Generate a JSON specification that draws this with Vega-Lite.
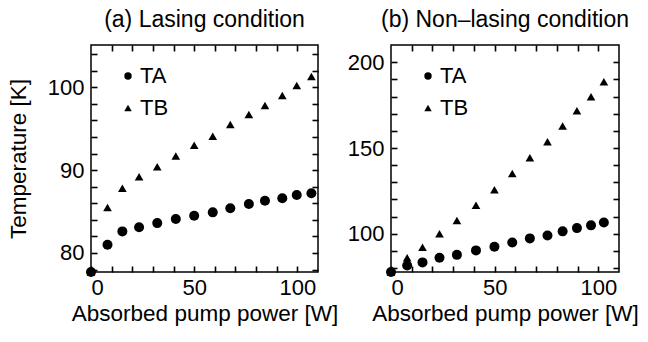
{
  "$schema": "https://vega.github.io/schema/vega-lite/v6.json",
  "background": "white",
  "padding": {"left": 6, "top": 8, "right": 3, "bottom": 5},
  "config": {
    "font": "Liberation Sans",
    "view": {"stroke": "black", "strokeWidth": 1.5},
    "axis": {
      "domain": false, "grid": false,
      "tickColor": "black", "tickWidth": 1.6, "tickSize": -6,
      "labelFontSize": 22, "labelColor": "black", "labelFont": "Liberation Sans",
      "titleFontSize": 22.5, "titleFontWeight": "normal", "titleColor": "black", "titleFont": "Liberation Sans"
    },
    "axisX": {"labelPadding": 11},
    "axisY": {"labelPadding": 13},
    "title": {"fontSize": 23, "fontWeight": "normal", "font": "Liberation Sans", "color": "black", "offset": 12},
    "legend": {"labelFontSize": 22, "labelFont": "Liberation Sans", "labelColor": "black", "symbolSize": 55, "symbolFillColor": "black", "symbolStrokeWidth": 0, "rowPadding": 10, "padding": 0, "labelOffset": 1},
    "concat": {"spacing": 7}
  },
  "data": {"values": [
    {"panel": "a", "series": "TA", "power": 0, "temp": 77.7},
    {"panel": "a", "series": "TA", "power": 8.0, "temp": 81.0},
    {"panel": "a", "series": "TA", "power": 15.2, "temp": 82.6},
    {"panel": "a", "series": "TA", "power": 23.3, "temp": 83.1},
    {"panel": "a", "series": "TA", "power": 32.1, "temp": 83.6},
    {"panel": "a", "series": "TA", "power": 41.1, "temp": 84.1},
    {"panel": "a", "series": "TA", "power": 50.0, "temp": 84.5},
    {"panel": "a", "series": "TA", "power": 59.0, "temp": 84.9},
    {"panel": "a", "series": "TA", "power": 67.5, "temp": 85.4},
    {"panel": "a", "series": "TA", "power": 76.5, "temp": 85.9},
    {"panel": "a", "series": "TA", "power": 84.3, "temp": 86.3},
    {"panel": "a", "series": "TA", "power": 92.7, "temp": 86.6},
    {"panel": "a", "series": "TA", "power": 99.7, "temp": 87.0},
    {"panel": "a", "series": "TA", "power": 106.8, "temp": 87.2},
    {"panel": "a", "series": "TB", "power": 0, "temp": 77.7},
    {"panel": "a", "series": "TB", "power": 8.0, "temp": 85.5},
    {"panel": "a", "series": "TB", "power": 15.2, "temp": 87.8},
    {"panel": "a", "series": "TB", "power": 23.3, "temp": 89.2},
    {"panel": "a", "series": "TB", "power": 32.1, "temp": 90.4},
    {"panel": "a", "series": "TB", "power": 41.1, "temp": 91.7},
    {"panel": "a", "series": "TB", "power": 50.0, "temp": 93.0},
    {"panel": "a", "series": "TB", "power": 59.0, "temp": 94.1},
    {"panel": "a", "series": "TB", "power": 67.5, "temp": 95.5},
    {"panel": "a", "series": "TB", "power": 76.5, "temp": 96.7},
    {"panel": "a", "series": "TB", "power": 84.3, "temp": 97.8},
    {"panel": "a", "series": "TB", "power": 92.7, "temp": 99.0},
    {"panel": "a", "series": "TB", "power": 99.7, "temp": 100.2},
    {"panel": "a", "series": "TB", "power": 106.8, "temp": 101.3},
    {"panel": "b", "series": "TA", "power": 0, "temp": 77.7},
    {"panel": "b", "series": "TA", "power": 7.8, "temp": 81.5},
    {"panel": "b", "series": "TA", "power": 15.2, "temp": 83.3},
    {"panel": "b", "series": "TA", "power": 23.4, "temp": 86.0},
    {"panel": "b", "series": "TA", "power": 31.8, "temp": 87.7},
    {"panel": "b", "series": "TA", "power": 41.0, "temp": 90.3},
    {"panel": "b", "series": "TA", "power": 49.9, "temp": 92.4},
    {"panel": "b", "series": "TA", "power": 58.5, "temp": 94.9},
    {"panel": "b", "series": "TA", "power": 67.0, "temp": 97.3},
    {"panel": "b", "series": "TA", "power": 75.5, "temp": 99.0},
    {"panel": "b", "series": "TA", "power": 82.8, "temp": 101.4},
    {"panel": "b", "series": "TA", "power": 89.7, "temp": 103.3},
    {"panel": "b", "series": "TA", "power": 96.5, "temp": 104.9},
    {"panel": "b", "series": "TA", "power": 102.7, "temp": 106.6},
    {"panel": "b", "series": "TB", "power": 0, "temp": 77.7},
    {"panel": "b", "series": "TB", "power": 7.8, "temp": 86.0},
    {"panel": "b", "series": "TB", "power": 15.2, "temp": 92.2},
    {"panel": "b", "series": "TB", "power": 23.4, "temp": 100.0},
    {"panel": "b", "series": "TB", "power": 31.8, "temp": 107.8},
    {"panel": "b", "series": "TB", "power": 41.0, "temp": 116.6},
    {"panel": "b", "series": "TB", "power": 49.9, "temp": 125.7},
    {"panel": "b", "series": "TB", "power": 58.5, "temp": 135.1},
    {"panel": "b", "series": "TB", "power": 67.0, "temp": 144.4},
    {"panel": "b", "series": "TB", "power": 75.5, "temp": 153.6},
    {"panel": "b", "series": "TB", "power": 82.8, "temp": 162.8},
    {"panel": "b", "series": "TB", "power": 89.7, "temp": 171.7},
    {"panel": "b", "series": "TB", "power": 96.5, "temp": 179.9},
    {"panel": "b", "series": "TB", "power": 102.7, "temp": 188.7}
  ]},
  "resolve": {"scale": {"shape": "independent", "x": "independent", "y": "independent"}, "legend": {"shape": "independent"}},
  "hconcat": [
    {
      "title": "(a) Lasing condition",
      "width": 227, "height": 227,
      "transform": [{"filter": "datum.panel === 'a'"}],
      "resolve": {"axis": {"x": "independent", "y": "independent"}},
      "layer": [
        {
          "mark": {"type": "point", "filled": true, "color": "black", "opacity": 1},
          "encoding": {
            "x": {"field": "power", "type": "quantitative", "scale": {"domain": [0, 110], "nice": false, "zero": false},
                  "axis": {"orient": "bottom", "title": "Absorbed pump power [W]", "values": [0,10,20,30,40,50,60,70,80,90,100], "labelExpr": "datum.value % 50 === 0 ? datum.label : ''", "titlePadding": 4}},
            "y": {"field": "temp", "type": "quantitative", "scale": {"domain": [77.7, 105.1], "nice": false, "zero": false},
                  "axis": {"orient": "left", "title": "Temperature [K]", "values": [78,80,82,84,86,88,90,92,94,96,98,100,102,104], "labelExpr": "datum.value % 10 === 0 ? datum.label : ''", "titlePadding": 17}},
            "shape": {"field": "series", "type": "nominal", "scale": {"domain": ["TA", "TB"], "range": ["circle", "triangle-up"]},
                      "legend": {"title": null, "orient": "none", "legendX": 26, "legendY": 20}},
            "size": {"field": "series", "type": "nominal", "scale": {"domain": ["TA", "TB"], "range": [100, 75]}, "legend": null}
          }
        },
        {
          "mark": {"type": "point", "opacity": 0},
          "encoding": {
            "x": {"field": "power", "type": "quantitative", "axis": {"orient": "top", "title": null, "labels": false, "values": [10,20,30,40,50,60,70,80,90,100]}},
            "y": {"field": "temp", "type": "quantitative", "axis": {"orient": "right", "title": null, "labels": false, "values": [78,80,82,84,86,88,90,92,94,96,98,100,102,104]}}
          }
        }
      ]
    },
    {
      "title": "(b) Non\u2013lasing condition",
      "width": 228, "height": 227,
      "transform": [{"filter": "datum.panel === 'b'"}],
      "resolve": {"axis": {"x": "independent", "y": "independent"}},
      "layer": [
        {
          "mark": {"type": "point", "filled": true, "color": "black", "opacity": 1},
          "encoding": {
            "x": {"field": "power", "type": "quantitative", "scale": {"domain": [0, 110], "nice": false, "zero": false},
                  "axis": {"orient": "bottom", "title": "Absorbed pump power [W]", "values": [0,10,20,30,40,50,60,70,80,90,100], "labelExpr": "datum.value % 50 === 0 ? datum.label : ''", "titlePadding": 4}},
            "y": {"field": "temp", "type": "quantitative", "scale": {"domain": [77.7, 210.1], "nice": false, "zero": false},
                  "axis": {"orient": "left", "title": null, "values": [80,90,100,110,120,130,140,150,160,170,180,190,200], "labelExpr": "datum.value % 50 === 0 ? datum.label : ''"}},
            "shape": {"field": "series", "type": "nominal", "scale": {"domain": ["TA", "TB"], "range": ["circle", "triangle-up"]},
                      "legend": {"title": null, "orient": "none", "legendX": 26, "legendY": 20}},
            "size": {"field": "series", "type": "nominal", "scale": {"domain": ["TA", "TB"], "range": [100, 75]}, "legend": null}
          }
        },
        {
          "mark": {"type": "point", "opacity": 0},
          "encoding": {
            "x": {"field": "power", "type": "quantitative", "axis": {"orient": "top", "title": null, "labels": false, "values": [10,20,30,40,50,60,70,80,90,100]}},
            "y": {"field": "temp", "type": "quantitative", "axis": {"orient": "right", "title": null, "labels": false, "values": [80,90,100,110,120,130,140,150,160,170,180,190,200]}}
          }
        }
      ]
    }
  ]
}
